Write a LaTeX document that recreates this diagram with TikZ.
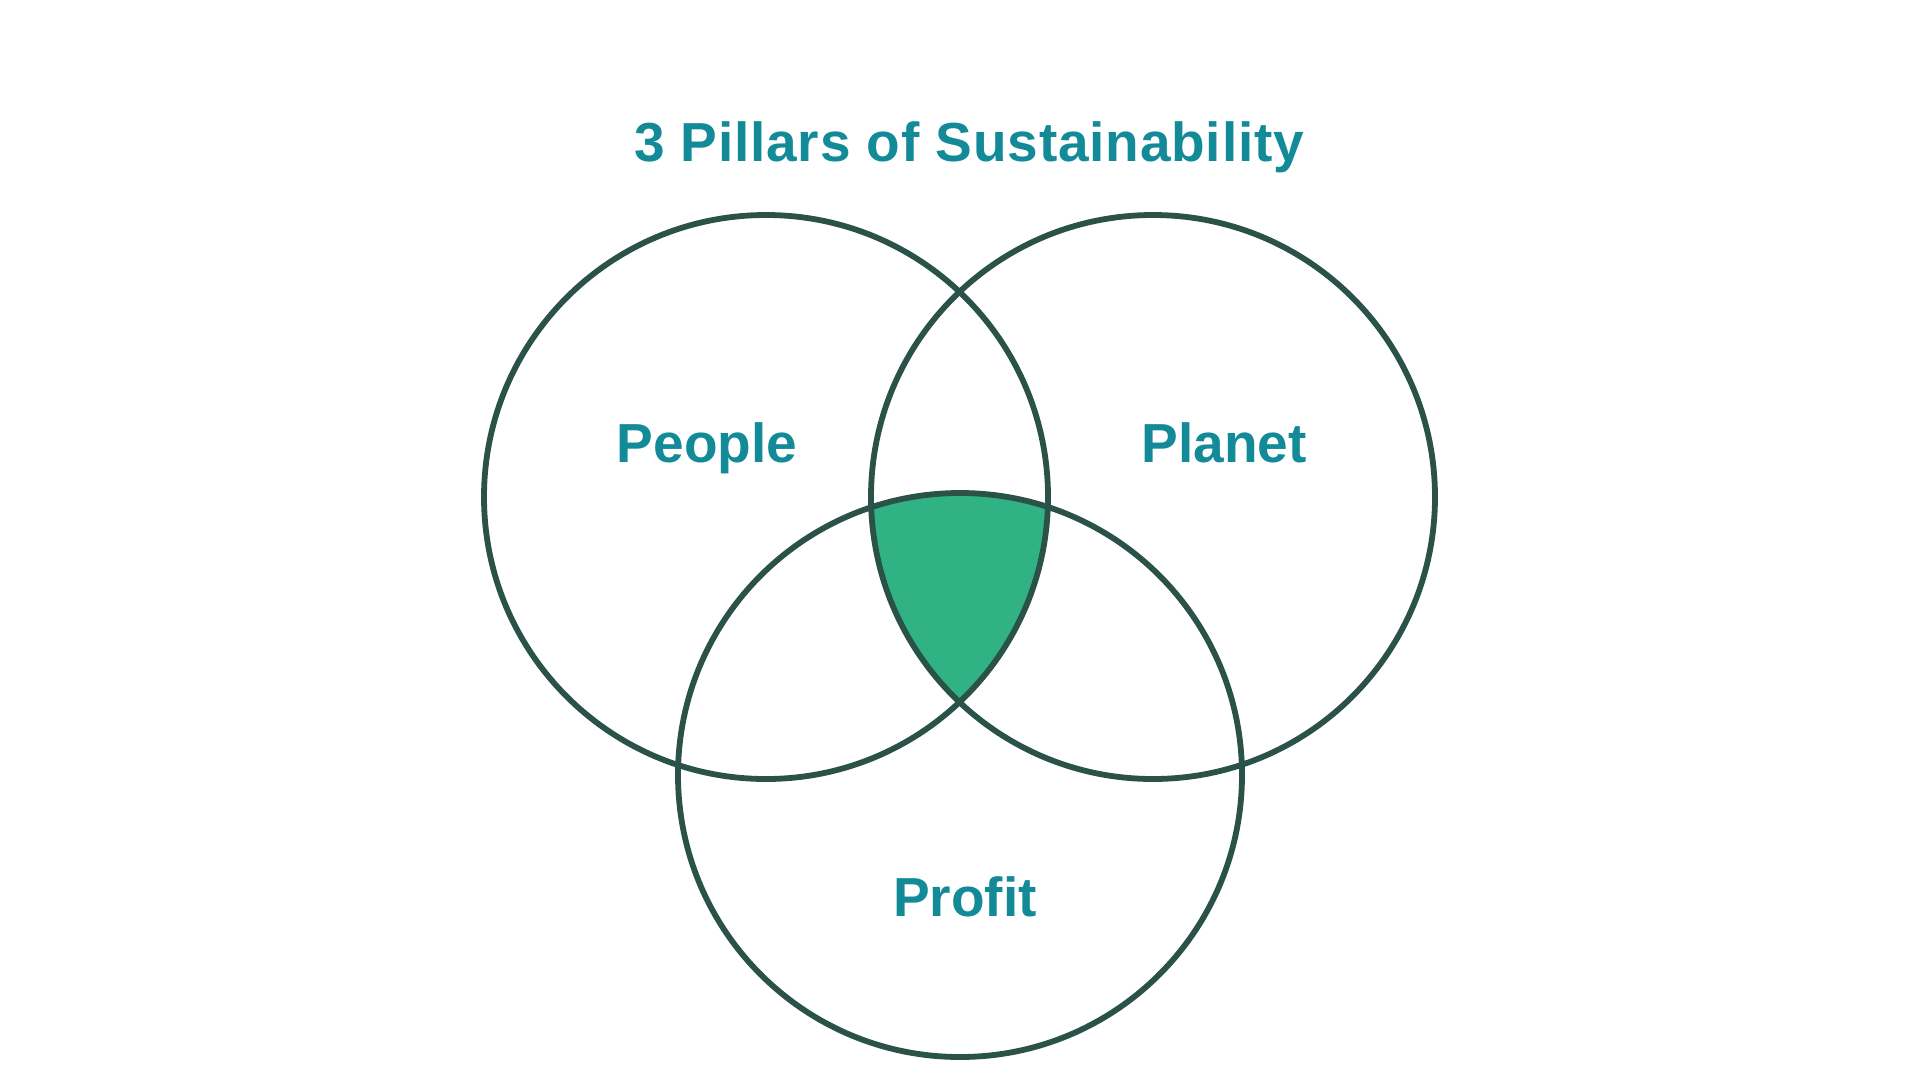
\documentclass[tikz,border=0pt]{standalone}
\usepackage{fontspec}
\setmainfont{Liberation Sans}
\definecolor{ringc}{HTML}{2A5248}
\definecolor{fillc}{HTML}{31B284}
\definecolor{textc}{HTML}{128A98}
\begin{document}
\begin{tikzpicture}[x=1pt,y=-1pt,
  ring/.style={draw=ringc,line width=5.8pt},
  lbl/.style={text=textc,font=\fontsize{55}{60}\selectfont\bfseries,inner sep=0pt,anchor=base}]
\useasboundingbox (0,0) rectangle (1920,1080);
\fill[white] (0,0) rectangle (1920,1080);
\coordinate (cA) at (766,497);
\coordinate (cB) at (1153,497);
\coordinate (cC) at (960,775);
\begin{scope}
  \clip (cA) circle[radius=282];
  \clip (cB) circle[radius=282];
  \fill[fillc] (cC) circle[radius=282];
\end{scope}
\draw[ring] (cA) circle[radius=282];
\draw[ring] (cB) circle[radius=282];
\draw[ring] (cC) circle[radius=282];
\node[lbl] (title) at (969,161) {\addfontfeature{LetterSpace=1.5}3 Pillars of Sustainability};
\node[lbl] (people) at (707,462) {People};
\node[lbl] (planet) at (1224,462) {Planet};
\node[lbl] (profit) at (965,916) {Profit};
\end{tikzpicture}
\end{document}
